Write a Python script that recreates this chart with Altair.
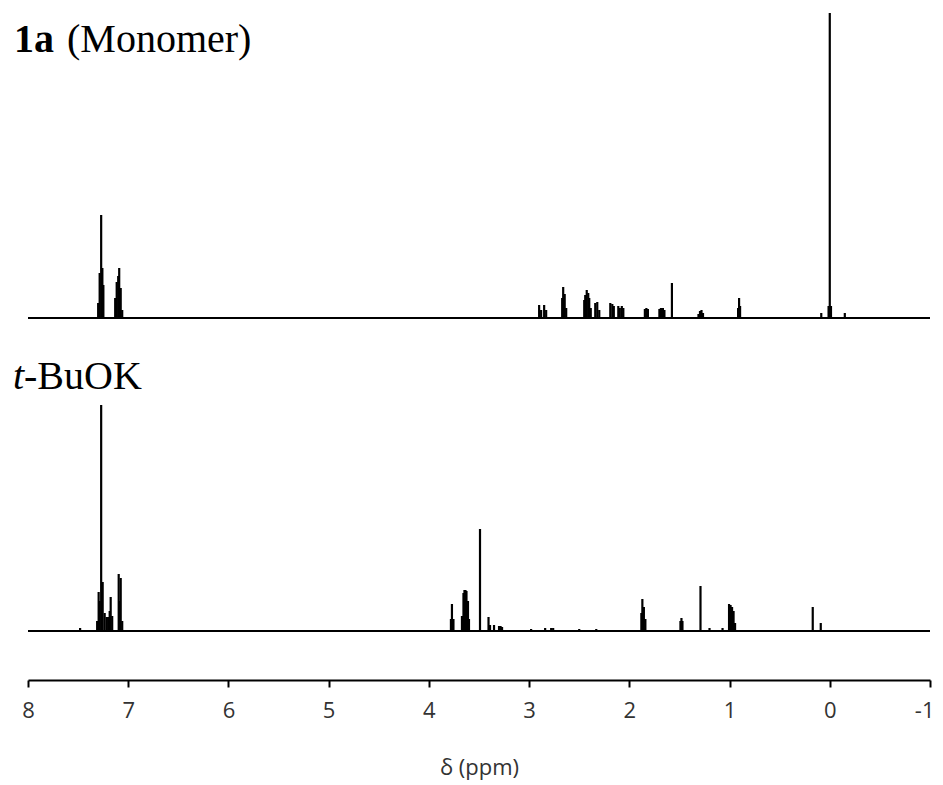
import altair as alt
import pandas as pd

# ---- data (ppm, peak height in arbitrary units) ----
top_ppm = [7.30, 7.285, 7.27, 7.258, 7.248, 7.13, 7.115, 7.10, 7.09, 7.075, 7.06,
           2.90, 2.88, 2.85, 2.83,
           2.67, 2.66, 2.645, 2.63,
           2.45, 2.44, 2.425, 2.41, 2.40, 2.385,
           2.34, 2.32, 2.30,
           2.19, 2.17, 2.155,
           2.11, 2.095, 2.075, 2.06,
           1.845, 1.83, 1.815,
           1.70, 1.685, 1.665, 1.65,
           1.575,
           1.31, 1.295, 1.28, 1.265,
           0.915, 0.905, 0.895,
           0.085,
           0.012, 0.0, -0.012,
           -0.15]
top_h = [15, 45, 103, 50, 33, 20, 36, 42, 50, 30, 8,
         13, 8, 13, 8,
         20, 31, 24, 10,
         18, 23, 28, 25, 20, 10,
         15, 16, 8,
         15, 14, 12,
         12, 10, 12, 10,
         9, 10, 9,
         9, 10, 10, 8,
         35,
         4, 7, 8, 5,
         10, 20, 12,
         5,
         12, 305, 12,
         5]

bot_ppm = [7.48,
           7.31, 7.295, 7.285, 7.27, 7.255, 7.235, 7.215, 7.20, 7.185, 7.175, 7.16,
           7.095, 7.085, 7.075, 7.06,
           3.78, 3.77, 3.755,
           3.67, 3.655, 3.645, 3.635, 3.625, 3.61, 3.60,
           3.49,
           3.405, 3.39, 3.35, 3.30, 3.285, 3.27,
           2.98, 2.84, 2.78, 2.76, 2.50, 2.33,
           1.88, 1.87, 1.855, 1.84,
           1.49, 1.48, 1.47,
           1.29, 1.20, 1.07,
           1.005, 0.99, 0.975, 0.96, 0.945,
           0.17, 0.09, -0.13]
bot_h = [3,
         10, 39, 30, 226, 49, 18, 14, 14, 20, 34, 15,
         57, 30, 53, 10,
         12, 27, 12,
         15, 38, 41, 41, 40, 30, 12,
         102,
         14, 6, 6, 5, 5, 4,
         2, 3, 3, 3, 2, 2,
         18, 32, 24, 12,
         10, 13, 10,
         45, 3, 3,
         27, 26, 24, 20, 8,
         24, 8, 1]

trace_names = ["1a (Monomer)", "t-BuOK"]
trace_base = [362, 49]          # vertical offset of each trace
x_ticks = [8, 7, 6, 5, 4, 3, 2, 1, 0, -1]

rows = []
for p, h in zip(top_ppm, top_h):
    rows.append({"ppm": p, "y0": trace_base[0], "y1": trace_base[0] + h, "trace": trace_names[0]})
for p, h in zip(bot_ppm, bot_h):
    rows.append({"ppm": p, "y0": trace_base[1], "y1": trace_base[1] + h, "trace": trace_names[1]})
peaks = pd.DataFrame(rows)

bases = pd.DataFrame({"x0": [8, 8], "x1": [-1, -1], "y": trace_base, "trace": trace_names})

xscale = alt.Scale(domain=[-1, 8], reverse=True, nice=False, zero=False)
yscale = alt.Scale(domain=[0, 670], nice=False, zero=True)

xaxis = alt.Axis(values=x_ticks, title="δ (ppm)", grid=False,
                 labelExpr="'' + datum.value",
                 domainColor="black", domainWidth=2, tickColor="black", tickWidth=2,
                 tickSize=7, labelFont="Open Sans", labelFontSize=22, labelColor="#333333",
                 labelPadding=13, titleFont="Open Sans", titleFontSize=22,
                 titleFontWeight="normal", titleColor="#333333", titlePadding=36,
                 labelFlush=False,
                 labelAlign={"condition": {"test": "datum.value == -1", "value": "right"},
                             "value": "center"},
                 labelOffset={"condition": {"test": "datum.value == -1", "value": 4},
                              "value": 0})

baseline = alt.Chart(bases).mark_rule(color="black", strokeWidth=2.2).encode(
    x=alt.X("x0:Q", scale=xscale, axis=xaxis),
    x2="x1:Q",
    y=alt.Y("y:Q", scale=yscale, axis=None),
)

sticks = alt.Chart(peaks).mark_rule(color="black", strokeWidth=2.2).encode(
    x=alt.X("ppm:Q", scale=xscale),
    y=alt.Y("y0:Q", scale=yscale),
    y2="y1:Q",
)

def label(txt, px, py, weight="normal", style="normal"):
    return alt.Chart(pd.DataFrame({"t": [txt]})).mark_text(
        font="Liberation Serif", fontSize=40, fontWeight=weight, fontStyle=style,
        align="left", baseline="alphabetic", color="black"
    ).encode(text="t:N", x=alt.value(px), y=alt.value(py))

texts = (label("1a", -14, 42, weight="bold")
         + label("(Monomer)", 39, 42)
         + label("t", -15, 379, style="italic")
         + label("-BuOK", -4, 379))

chart = alt.layer(baseline, sticks, texts).properties(
    width=902, height=670,
    autosize=alt.AutoSizeParams(type="none"),
    padding={"left": 20, "top": 2, "right": 5, "bottom": 100},
).configure_view(stroke=None)

chart.save("out.html", embed_options={"renderer": "svg", "actions": False})
